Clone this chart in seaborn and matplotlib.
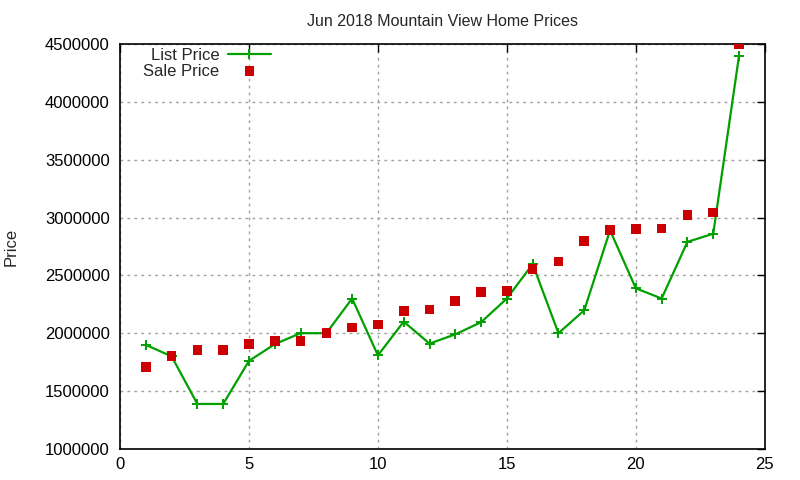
import matplotlib
matplotlib.use("Agg")
import matplotlib.pyplot as plt
import seaborn as sns
import pandas as pd

days = list(range(1, 25))
list_price = [1899000, 1800000, 1388000, 1388000, 1760000, 1905000, 2000000, 2000000,
              2300000, 1808000, 2100000, 1910000, 1990000, 2095000, 2300000, 2598000,
              2000000, 2198000, 2890000, 2388000, 2300000, 2790000, 2860000, 4398000]
sale_price = [1705000, 1800000, 1855000, 1855000, 1905000, 1930000, 1930000, 2000000,
              2050000, 2075000, 2190000, 2205000, 2278000, 2356000, 2365000, 2555000,
              2620000, 2800000, 2890000, 2900000, 2905000, 3020000, 3045000, 4500000]
x_ticks = [0, 5, 10, 15, 20, 25]
y_ticks = [1000000, 1500000, 2000000, 2500000, 3000000, 3500000, 4000000, 4500000]

df = pd.DataFrame({"day": days, "List Price": list_price, "Sale Price": sale_price})

sns.set_style("white")
plt.rcParams['font.family'] = ['Liberation Sans', 'DejaVu Sans']

fig = plt.figure(figsize=(8, 4.8), dpi=100)
ax = fig.add_axes([0.15, 0.065, 0.806, 0.843])

green = "#00a000"
red = "#cc0000"

sns.lineplot(data=df, x="day", y="List Price", ax=ax, color=green, linewidth=1.6,
             marker="+", markersize=7, markeredgewidth=1.4, markeredgecolor=green,
             label="List Price")
sns.scatterplot(data=df, x="day", y="Sale Price", ax=ax, color=red, marker="s", s=48,
                edgecolor="none", linewidth=0, label="Sale Price", zorder=3)

ax.set_xlim(0, 25)
ax.set_ylim(1000000, 4500000)
ax.set_xticks(x_ticks)
ax.set_yticks(y_ticks)
ax.set_xticklabels([str(t) for t in x_ticks])
ax.set_yticklabels([str(t) for t in y_ticks])
ax.tick_params(direction="in", length=6, width=1, top=True, right=True,
               labelsize=12, colors="black")
ax.tick_params(axis="y", pad=7.5)
ax.tick_params(axis="x", pad=6)
ax.grid(True, color="#a0a0a0", linestyle=(0, (2, 3)), linewidth=1)
for s in ax.spines.values():
    s.set_color("black")
    s.set_linewidth(1.2)
ax.set_xlabel("")
ax.set_ylabel("Price", fontsize=12, labelpad=19)
ax.set_title("Jun 2018 Mountain View Home Prices", fontsize=11.5, pad=13)

leg = ax.legend(loc="upper left", frameon=False, markerfirst=False, fontsize=12,
                handlelength=2.6, handletextpad=0.5, labelspacing=0.05,
                bbox_to_anchor=(0.018, 1.02), borderaxespad=0.3)

fig.savefig("out.png", dpi=100)
